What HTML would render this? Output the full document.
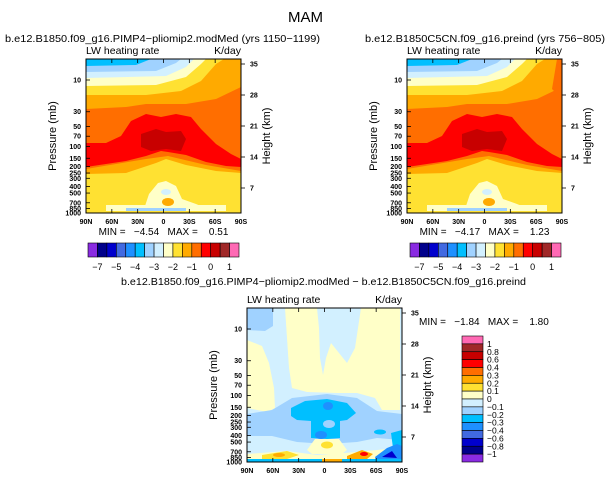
<!DOCTYPE html>
<html><head><meta charset="utf-8"><style>
html,body{margin:0;padding:0;background:#fff;}
svg{display:block;font-family:"Liberation Sans",sans-serif;}
</style></head><body>
<svg id="fig" width="611" height="481" viewBox="0 0 611 481" xmlns="http://www.w3.org/2000/svg">
<defs>
<clipPath id="pc"><rect x="0" y="0" width="155" height="154"/></clipPath>
<g id="fieldTop">
 <rect x="0" y="0" width="155" height="154" fill="#ffe132"/>
 <path d="M0,115 L40,114 L70,104 L80,100 L100,106 L130,112 L155,114 L155,0 L0,0Z" fill="#ffaa00"/>
 <path d="M0,36 L60,36 L95,32 L115,22 L130,5 L138,0 L0,0Z" fill="#ffe132"/>
 <path d="M0,27 L70,26 L100,18 L115,5 L120,0 L0,0Z" fill="#ffffc8"/>
 <path d="M0,19 L80,17 L100,8 L108,0 L0,0Z" fill="#d2f0ff"/>
 <path d="M0,13 L70,12 L90,4 L95,0 L0,0Z" fill="#a0d2ff"/>
 <path d="M0,7 L50,6 L65,0 L0,0Z" fill="#00bfff"/>
 <path d="M0,50 L40,48 L60,45 L100,45 L130,40 L155,28 L155,112 L120,106 L82,97 L60,100 L0,110Z" fill="#ff6e00"/>
 <path d="M0,84 L20,84 L35,77 L45,62 L60,55 L75,58 L90,55 L105,58 L115,70 L130,85 L145,95 L155,100 L155,108 L140,107 L120,103 L100,96 L82,93 L75,92 L60,97 L40,102 L0,108Z" fill="#ff0000"/>
 <path d="M55,75 L70,70 L80,73 L95,72 L100,80 L95,92 L80,90 L65,92 L55,88Z" fill="#c80000"/>
 <path d="M58,150 L63,135 L72,124 L80,122 L90,127 L96,140 L110,145 L122,150Z" fill="#ffffc8"/>
 <path d="M20,146 L140,146 L140,152 L20,152Z" fill="#ffffc8"/>
 <ellipse cx="80" cy="133" rx="5" ry="3" fill="#d2f0ff"/>
 <ellipse cx="82" cy="143" rx="6" ry="4" fill="#ffaa00"/>
 <path d="M40,149 L100,149 L100,152 L40,152Z" fill="#a0d2ff"/>
</g>
<g id="fieldDiff">
 <rect x="0" y="0" width="155" height="154" fill="#d2f0ff"/>
 <path d="M0,0 L26,0 L26,18 L18,23 L0,22Z" fill="#a0d2ff"/>
 <path d="M0,32 L15,38 L22,55 L27,80 L28,100 L20,104 L0,100Z" fill="#ffffc8"/>
 <path d="M38,0 L70,0 L72,20 L73,50 L76,67 L79,50 L84,35 L92,45 L100,55 L108,40 L114,0 L153,0 L153,102 L135,102 L128,90 L110,85 L90,85 L60,84 L45,80 L42,60Z" fill="#ffffc8"/>
 <path d="M0,106 L25,102 L45,90 L80,86 L110,90 L130,103 L155,106 L155,132 L130,130 L110,134 L80,136 L50,134 L25,128 L0,128Z" fill="#a0d2ff"/>
 <path d="M44,100 L58,93 L80,91 L100,95 L109,105 L100,112 L93,113 L93,130 L80,131 L64,130 L64,113 L50,112 L44,108Z" fill="#00bfff"/>
 <ellipse cx="82" cy="116" rx="6" ry="4" fill="#a0d2ff"/>
 <ellipse cx="81" cy="98" rx="5" ry="4" fill="#1e90ff"/>
 <ellipse cx="74" cy="127" rx="6" ry="4" fill="#1e90ff"/>
 <ellipse cx="133" cy="124" rx="6" ry="2.5" fill="#00bfff"/>
 <path d="M144,125 L155,122 L155,142 L146,140Z" fill="#00bfff"/>
 <path d="M60,142 L68,131 L92,131 L100,142 L95,146 L65,146Z" fill="#ffffc8"/>
 <ellipse cx="80" cy="137" rx="6" ry="3.5" fill="#ffe132"/>
 <path d="M0,146 L40,143 L70,147 L110,144 L140,141 L155,139 L155,154 L0,154Z" fill="#ffffc8"/>
 <path d="M15,147 L40,143 L52,147 L40,151 L15,151Z" fill="#ffe132"/>
 <ellipse cx="32" cy="147" rx="6" ry="2" fill="#ffaa00"/>
 <path d="M100,148 L115,142 L126,146 L120,151 L100,151Z" fill="#ffaa00"/>
 <ellipse cx="117" cy="146" rx="4" ry="2" fill="#ff0000"/>
 <path d="M128,149 L140,140 L150,136 L155,138 L155,154 L130,154Z" fill="#1e90ff"/>
 <path d="M135,149 L145,143 L150,150Z" fill="#0000cd"/>
 <path d="M0,151 L155,151 L155,154 L0,154Z" fill="#00bfff"/>
 <path d="M75,151 L95,151 L95,154 L75,154Z" fill="#ffaa00"/>
</g>
</defs>

<text x="305.5" y="22" font-size="15" text-anchor="middle">MAM</text>

<g transform="translate(86,59)">
 <g clip-path="url(#pc)"><use href="#fieldTop"/></g>
</g>
<g transform="translate(407,59)">
 <g clip-path="url(#pc)"><use href="#fieldTop"/>
 <path d="M150,0 L155,0 L155,40 L145,30Z" fill="#ff6e00"/></g>
</g>
<g transform="translate(247,308)">
 <g clip-path="url(#pc)"><use href="#fieldDiff"/></g>
</g>
<g id="overlay"></g>
</svg>
<script>
const pressureTicks = [10, 30, 50, 70, 100, 150, 200, 250, 300, 400, 500, 700, 850, 1000];
const heightTicks = [35, 28, 21, 14, 7];
const latLabels = ['90N', '60N', '30N', '0', '30S', '60S', '90S'];
const absLevelLabels = ['-7', '-5', '-4', '-3', '-2', '-1', '0', '1'];
const absLabelBoundaries = [1, 3, 5, 7, 9, 11, 13, 15];
const diffLevelLabels = ['1', '0.8', '0.6', '0.4', '0.3', '0.2', '0.1', '0', '-0.1', '-0.2', '-0.3', '-0.4', '-0.6', '-0.8', '-1'];
const absColors = ['#8a2be2','#00008b','#0000cd','#4169e1','#1e90ff','#00bfff','#a0d2ff','#d2f0ff','#ffffc8','#ffe132','#ffaa00','#ff6e00','#ff0000','#c80000','#a02828','#ff69b4'];
const diffColors = ['#ff69b4','#a02828','#c80000','#ff0000','#ff6e00','#ffaa00','#ffe132','#ffffc8','#d2f0ff','#a0d2ff','#00bfff','#1e90ff','#4169e1','#0000cd','#00008b','#8a2be2'];
const panelTitles = ['b.e12.B1850.f09_g16.PIMP4\u2212pliomip2.modMed (yrs 1150\u22121199)', 'b.e12.B1850C5CN.f09_g16.preind (yrs 756\u2212805)', 'b.e12.B1850.f09_g16.PIMP4\u2212pliomip2.modMed \u2212 b.e12.B1850C5CN.f09_g16.preind'];
const minVals = ['\u22124.54', '\u22124.17', '\u22121.84'];
const maxVals = ['0.51', '1.23', '1.80'];

const NS = 'http://www.w3.org/2000/svg';
const ov = document.getElementById('overlay');
const W = 155, H = 154;
function yP(p){ return 21 + (Math.log(p) - Math.log(10)) * 28.9; }
function yH(h){ return 5 + (35 - h) * 31 / 7; }
function xL(i){ return i * W / (latLabels.length - 1); }
function mk(tag, attrs, parent){
  const e = document.createElementNS(NS, tag);
  for (const k in attrs) e.setAttribute(k, attrs[k]);
  (parent || ov).appendChild(e);
  return e;
}
function txt(x, y, s, size, anchor, parent){
  const t = mk('text', {x: x, y: y, 'font-size': size, 'text-anchor': anchor || 'start'}, parent);
  t.textContent = s;
  return t;
}
const panels = [{x:86, y:59, tx:5, ty:42, tl:315}, {x:407, y:59, tx:365, ty:42, tl:240}, {x:247, y:308, tx:121, ty:285, tl:405}];
panels.forEach(function(p, pi){
  const g = mk('g', {transform: 'translate(' + p.x + ',' + p.y + ')'});
  
  
  const fr = mk('rect', {x:0, y:0, width:W, height:H, fill:'none', stroke:'#000', 'stroke-width':1}, g);
  
  
  pressureTicks.forEach(function(pr){
    const y = yP(pr);
    mk('line', {x1:0, x2:4, y1:y, y2:y, stroke:'#000', 'stroke-width':0.8}, g);
    const t = txt(-5, y + 2.5, String(pr), 7, 'end', g);
    t.setAttribute('font-weight', 'bold');
    
    
  });
  heightTicks.forEach(function(h){
    const y = yH(h);
    mk('line', {x1:W, x2:W + 4, y1:y, y2:y, stroke:'#000', 'stroke-width':0.8}, g);
    const t = txt(W + 9, y + 2.5, String(h), 7, 'start', g);
    t.setAttribute('font-weight', 'bold');
    
    
  });
  latLabels.forEach(function(l, i){
    const x = xL(i);
    mk('line', {x1:x, x2:x, y1:H, y2:H - 4, stroke:'#000', 'stroke-width':0.8}, g);
    mk('line', {x1:x, x2:x, y1:0, y2:4, stroke:'#000', 'stroke-width':0.8}, g);
    const t = txt(x, H + 11, l, 7, 'middle', g);
    t.setAttribute('font-weight', 'bold');
    
    
  });
  const yl = txt(0, 0, 'Pressure (mb)', 11, 'middle', g);
  yl.setAttribute('transform', 'translate(-30,' + (H/2) + ') rotate(-90)');
  
  
  const yr = txt(0, 0, 'Height (km)', 11, 'middle', g);
  yr.setAttribute('transform', 'translate(' + (W + 29) + ',' + (H/2) + ') rotate(-90)');
  
  
  const l1 = txt(0, -5, 'LW heating rate', 10.5, 'start', g);
  
  
  const l2 = txt(W, -5, 'K/day', 10.5, 'end', g);
  
  
  const tt = txt(p.tx, p.ty, panelTitles[pi], 10.5, 'start');
  tt.setAttribute('textLength', p.tl);
  tt.setAttribute('lengthAdjust', 'spacingAndGlyphs');
  
  
  let mm;
  if (pi < 2) mm = txt(p.x + W/2, p.y + H + 22, 'MIN =   ' + minVals[pi] + '   MAX =    ' + maxVals[pi], 10, 'middle');
  else mm = txt(p.x + W + 17, 325, 'MIN =   ' + minVals[pi] + '   MAX =    ' + maxVals[pi], 10, 'start');
  mm.style.whiteSpace = 'pre';
  
  
});
[88, 410].forEach(function(x0, ci){
  const g = mk('g', {transform: 'translate(' + x0 + ',243)'});
  
  
  const bw = 151 / absColors.length;
  absColors.forEach(function(c, i){
    const r = mk('rect', {x: i*bw, y:0, width:bw, height:14, fill:c, stroke:'#000', 'stroke-width':0.6}, g);
    
    
  });
  absLevelLabels.forEach(function(l, i){
    const t = txt(absLabelBoundaries[i]*bw, 27, l.replace('-', '\u2212'), 9, 'middle', g);
    
    
  });
});
(function(){
  const g = mk('g', {transform: 'translate(462,336)'});
  
  
  const bh = 126 / diffColors.length;
  diffColors.forEach(function(c, i){
    const r = mk('rect', {x:0, y:i*bh, width:21, height:bh, fill:c, stroke:'#000', 'stroke-width':0.6}, g);
    
    
  });
  diffLevelLabels.forEach(function(l, i){
    const t = txt(25, (i+1)*bh + 3, l.replace('-', '\u2212'), 8.5, 'start', g);
    
    
  });
})();
</script>
</body></html>
